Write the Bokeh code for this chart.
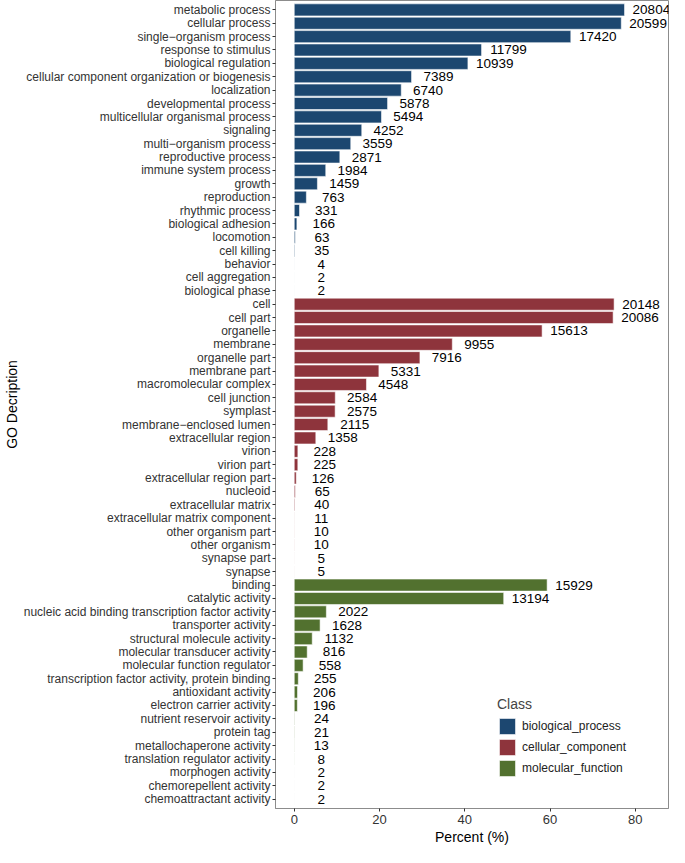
from bokeh.plotting import figure
from bokeh.models import FactorRange, ColumnDataSource, FixedTicker, Legend, LegendItem
from bokeh.core.properties import value
from bokeh.embed import file_html
from bokeh.resources import INLINE

bp_terms = ["metabolic process", "cellular process", "single-organism process", "response to stimulus",
            "biological regulation", "cellular component organization or biogenesis", "localization",
            "developmental process", "multicellular organismal process", "signaling", "multi-organism process",
            "reproductive process", "immune system process", "growth", "reproduction", "rhythmic process",
            "biological adhesion", "locomotion", "cell killing", "behavior", "cell aggregation", "biological phase"]
bp_counts = [20804, 20599, 17420, 11799, 10939, 7389, 6740, 5878, 5494, 4252, 3559,
             2871, 1984, 1459, 763, 331, 166, 63, 35, 4, 2, 2]

cc_terms = ["cell", "cell part", "organelle", "membrane", "organelle part", "membrane part",
            "macromolecular complex", "cell junction", "symplast", "membrane\u2212enclosed lumen",
            "extracellular region", "virion", "virion part", "extracellular region part", "nucleoid",
            "extracellular matrix", "extracellular matrix component", "other organism part",
            "other organism", "synapse part", "synapse"]
cc_counts = [20148, 20086, 15613, 9955, 7916, 5331, 4548, 2584, 2575, 2115, 1358,
             228, 225, 126, 65, 40, 11, 10, 10, 5, 5]

mf_terms = ["binding", "catalytic activity", "nucleic acid binding transcription factor activity",
            "transporter activity", "structural molecule activity", "molecular transducer activity",
            "molecular function regulator", "transcription factor activity, protein binding",
            "antioxidant activity", "electron carrier activity", "nutrient reservoir activity",
            "protein tag", "metallochaperone activity", "translation regulator activity",
            "morphogen activity", "chemorepellent activity", "chemoattractant activity"]
mf_counts = [15929, 13194, 2022, 1628, 1132, 816, 558, 255, 206, 196, 24, 21, 13, 8, 2, 2, 2]

total_genes = 26850
classes = ["biological_process", "cellular_component", "molecular_function"]
colors = ["#1C4770", "#8E343C", "#52712F"]
x_ticks = [0, 20, 40, 60, 80]

bp_terms = [t.replace("-", "\u2212") for t in bp_terms]
all_terms = bp_terms + cc_terms + mf_terms

p = figure(width=669, height=847, output_backend="svg", toolbar_location=None,
           y_range=FactorRange(factors=list(reversed(all_terms)), range_padding=0.2,
                               range_padding_units="absolute"),
           x_range=(-4.4, 87.8),
           min_border_top=0, min_border_right=1, min_border_bottom=0, min_border_left=0)

legend_items = []
for terms, counts, cls, col in zip([bp_terms, cc_terms, mf_terms], [bp_counts, cc_counts, mf_counts],
                                   classes, colors):
    pct = [c / total_genes * 100 for c in counts]
    src = ColumnDataSource(dict(term=terms, pct=pct, lab=[str(c) for c in counts],
                                lx=[v + 6.3 for v in pct]))
    r = p.hbar(y="term", right="pct", left=0, height=0.9, source=src,
               fill_color=col, line_color="white", line_alpha=0.55, line_width=1)
    p.text(x="lx", y="term", text="lab", source=src, text_align="center", text_baseline="middle",
           text_font=value("Liberation Sans"), text_font_size="13.5px", text_color="black")
    legend_items.append(LegendItem(label=cls, renderers=[r]))

legend = Legend(items=legend_items, title="Class", location=(222, 30),
                title_text_font="Liberation Sans", title_text_font_size="14px",
                title_text_font_style="normal", title_standoff=4,
                label_text_font="Liberation Sans", label_text_font_size="12px",
                label_text_color="#222222",
                glyph_width=20, glyph_height=20, label_height=20, spacing=1, padding=0,
                label_standoff=5, background_fill_alpha=0, border_line_alpha=0, margin=0)
p.add_layout(legend)

p.grid.visible = False
p.outline_line_color = "#8c8c8c"
p.outline_line_width = 1

p.xaxis.ticker = FixedTicker(ticks=x_ticks)
p.xaxis.axis_label = "Percent (%)"
p.yaxis.axis_label = "GO Decription"
for ax in (p.xaxis, p.yaxis):
    ax.axis_label_text_font = "Liberation Sans"
    ax.axis_label_text_font_size = "14px"
    ax.axis_label_text_font_style = "normal"
    ax.axis_label_text_color = "black"
    ax.major_label_text_font = "Liberation Sans"
    ax.major_label_text_color = "#333333"
    ax.minor_tick_line_color = None
    ax.major_tick_in = 0
    ax.major_tick_out = 3
    ax.major_tick_line_color = "#333333"
    ax.axis_line_color = "#8c8c8c"
p.xaxis.major_label_text_font_size = "13px"
p.yaxis.major_label_text_font_size = "12px"
p.xaxis.axis_label_standoff = 2
p.yaxis.axis_label_standoff = 1
p.xaxis.major_label_standoff = 3
p.yaxis.major_label_standoff = 2

open("out.html", "w").write(file_html(p, INLINE))
